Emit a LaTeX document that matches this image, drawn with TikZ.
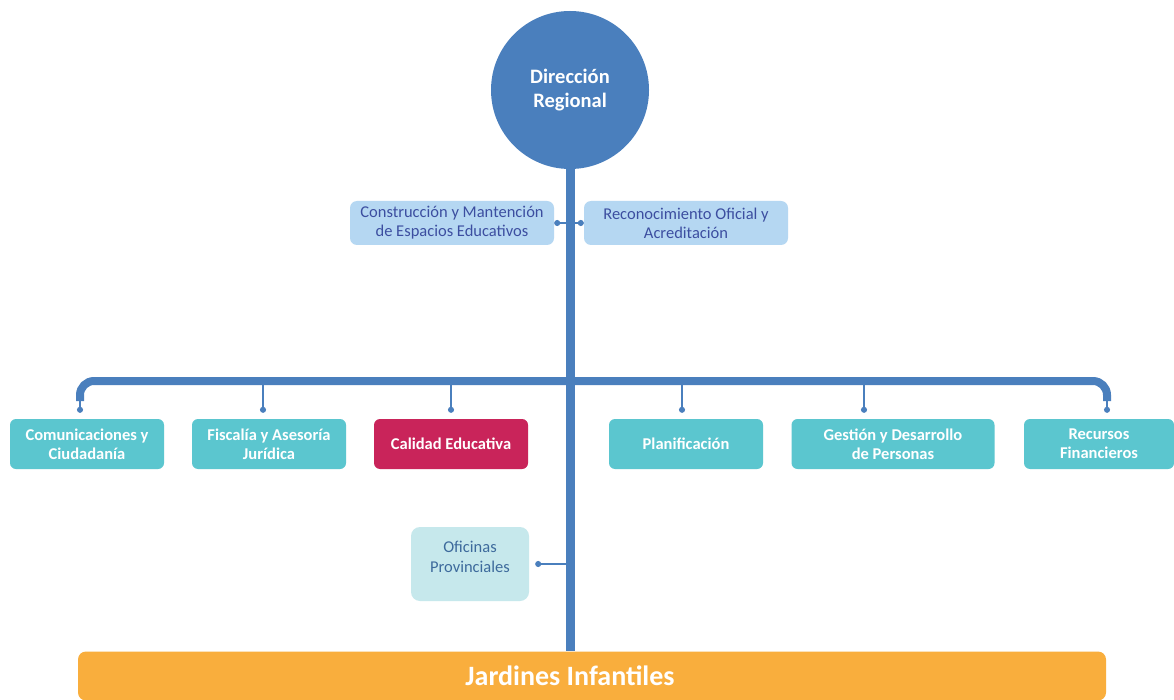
\documentclass[tikz,border=0pt]{standalone}
\usepackage{fontspec}
\setmainfont{Carlito}
\usetikzlibrary{positioning,calc,arrows.meta}
\definecolor{dirblue}{HTML}{4A7FBD}
\definecolor{unitteal}{HTML}{5BC6CF}
\definecolor{qualred}{HTML}{C9245A}
\definecolor{advfill}{HTML}{B5D7F2}
\definecolor{advtext}{HTML}{3C4EA0}
\definecolor{provfill}{HTML}{C6E8EC}
\definecolor{provtext}{HTML}{3D6A9C}
\definecolor{kidorange}{HTML}{F9AE3D}

\begin{document}
\begin{tikzpicture}[x=1pt, y=-1pt, line join=round,
  unit/.style={rounded corners=6pt, fill=unitteal, text=white, align=center, inner sep=2pt,
    font=\bfseries\fontsize{16.5}{19}\selectfont, minimum width=154pt, minimum height=50pt},
  adv/.style={rounded corners=7pt, fill=advfill, text=advtext, align=center, inner sep=2pt,
    font=\fontsize{16.5}{19}\selectfont, minimum width=204pt, minimum height=44pt},
  trunk/.style={draw=dirblue, line width=9pt},
  stub/.style={draw=dirblue, line width=1.3pt, {Circle[length=6pt]}-}]
\useasboundingbox[fill=white] (0,0) rectangle (1174,700);

\node[circle, fill=dirblue, minimum size=158pt, text=white, align=center,
  font=\bfseries\fontsize{20.5}{24}\selectfont] (DR) at (570,90) {Dirección\\Regional};
\node[rounded corners=8pt, fill=kidorange, minimum width=1028pt, minimum height=49pt] (JI) at (592,676) {};
\node[text=white, font=\bfseries\fontsize{28}{30}\selectfont] (JT) at (JI.center -| DR.south) {Jardines Infantiles};

% trunk and the branch bar
\coordinate (BH) at (570,381);
\coordinate (BL) at (80,401);
\coordinate (BR) at (1107,401);
\draw[trunk] (DR.south) -- (DR.south |- JI.north);
\draw[trunk, line width=8pt, rounded corners=14pt] (BL) |- (BH) -| (BR);

% advisory units
\node[adv] (CM) at (452,223) {Construcción y Mantención\\de Espacios Educativos};
\node[adv] (RO) at (686,223) {Reconocimiento Oficial y\\Acreditación};
\draw[stub, {Circle[length=6pt]}-{Circle[length=6pt]}] (CM.east) -- (RO.west);

% departments
\node[unit] (CC) at (87,444) {Comunicaciones y\\Ciudadanía};
\node[unit] (FA) at (269,444) {Fiscalía y Asesoría\\Jurídica};
\node[unit, fill=qualred] (CE) at (451,444) {Calidad Educativa};
\node[unit] (PL) at (686,444) {Planificación};
\node[unit, minimum width=203pt] (GD) at (893,444) {Gestión y Desarrollo\\de Personas};
\node[unit, minimum width=150pt] (RF) at (1099,444) {Recursos\\Financieros};

\draw[stub] ($(CC.north)+(-7,-6)$) -- (BL);
\draw[stub] ($(FA.north)+(-6,-6)$) -- ++(0,-32);
\draw[stub] ($(CE.north)+(0,-6)$) -- ++(0,-32);
\draw[stub] ($(PL.north)+(-4,-6)$) -- ++(0,-32);
\draw[stub] ($(GD.north)+(-29,-6)$) -- ++(0,-32);
\draw[stub] ($(RF.north)+(8,-6)$) -- (BR);

% provincial offices
\node[rounded corners=9pt, fill=provfill, minimum width=118pt, minimum height=74pt] (OP) at (470,564) {};
\node[text=provtext, align=center, font=\fontsize{16.5}{20}\selectfont] (OT) at ($(OP.center)+(0,-7)$) {Oficinas\\Provinciales};
\draw[stub] ($(OP.east)+(6,0)$) -- (OP.east -| DR.south);
\end{tikzpicture}
\end{document}
